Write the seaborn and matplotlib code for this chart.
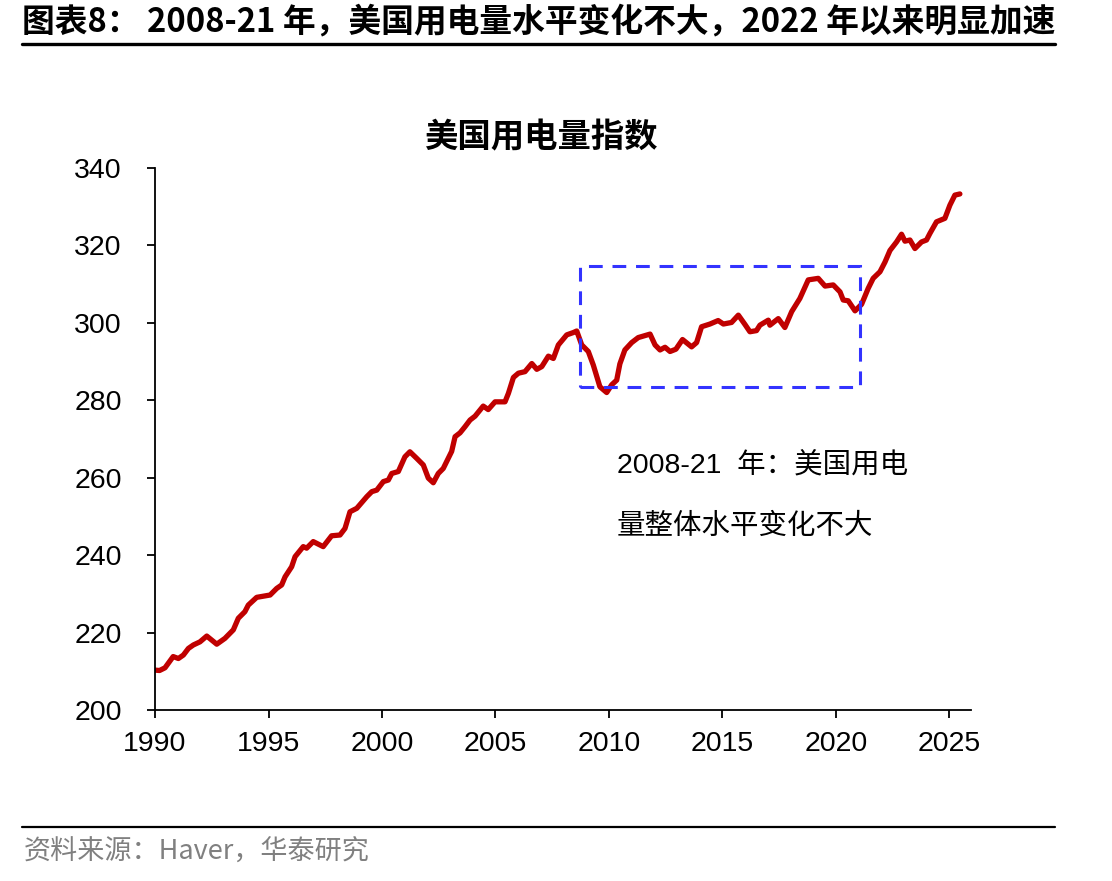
import numpy as np
import pandas as pd
import matplotlib
matplotlib.use('Agg')
import matplotlib.pyplot as plt
from matplotlib.patches import Rectangle
import seaborn as sns

# US electricity consumption index
years = [1990.00, 1990.20, 1990.44, 1990.80, 1991.03, 1991.25, 1991.47, 1991.69, 1991.98,
         1992.28, 1992.72, 1993.08, 1993.45, 1993.67, 1993.96, 1994.11, 1994.48, 1995.07,
         1995.36, 1995.58, 1995.73, 1996.02, 1996.17, 1996.53, 1996.68, 1996.97, 1997.41,
         1997.78, 1998.15, 1998.37, 1998.59, 1998.89, 1999.33, 1999.55, 1999.77, 2000.06,
         2000.28, 2000.43, 2000.72, 2001.01, 2001.23, 2001.53, 2001.82, 2002.04, 2002.26,
         2002.48, 2002.70, 2003.07, 2003.22, 2003.44, 2003.66, 2003.88, 2004.10, 2004.46,
         2004.68, 2004.98, 2005.42, 2005.57, 2005.79, 2006.01, 2006.30, 2006.60, 2006.82,
         2007.04, 2007.33, 2007.55, 2007.77, 2008.14, 2008.43, 2008.58, 2008.80, 2009.09,
         2009.31, 2009.60, 2009.90, 2010.12, 2010.34, 2010.48, 2010.70, 2011.00, 2011.29,
         2011.81, 2012.03, 2012.25, 2012.47, 2012.69, 2012.95, 2013.24, 2013.64, 2013.86,
         2014.08, 2014.45, 2014.81, 2015.04, 2015.40, 2015.70, 2015.99, 2016.21, 2016.50,
         2016.65, 2017.02, 2017.09, 2017.46, 2017.75, 2018.05, 2018.41, 2018.78, 2019.22,
         2019.52, 2019.88, 2020.18, 2020.32, 2020.54, 2020.84, 2021.13, 2021.42, 2021.64,
         2021.94, 2022.16, 2022.38, 2022.67, 2022.89, 2023.04, 2023.26, 2023.48, 2023.77,
         2023.99, 2024.14, 2024.43, 2024.80, 2025.02, 2025.24, 2025.46]
index_values = [210.3, 210.2, 210.9, 213.8, 213.3, 214.2, 215.9, 216.8, 217.6,
                219.1, 217.0, 218.5, 220.7, 223.7, 225.4, 227.1, 229.1, 229.7,
                231.4, 232.3, 234.4, 237.0, 239.6, 242.2, 241.8, 243.5, 242.2,
                245.0, 245.2, 246.9, 251.2, 252.1, 255.1, 256.4, 256.8, 259.0,
                259.4, 261.1, 261.6, 265.4, 266.7, 265.0, 263.3, 259.9, 258.7,
                261.1, 262.4, 266.8, 270.6, 271.6, 273.2, 274.9, 275.9, 278.5,
                277.6, 279.6, 279.6, 281.8, 285.9, 287.0, 287.4, 289.5, 288.0,
                288.7, 291.4, 290.8, 294.3, 296.9, 297.5, 297.9, 294.3, 292.6,
                289.1, 283.5, 282.0, 284.0, 285.2, 289.4, 293.0, 294.9, 296.2,
                297.1, 294.3, 293.0, 293.7, 292.6, 293.2, 295.7, 293.8, 294.9,
                299.0, 299.7, 300.6, 299.7, 300.1, 302.0, 299.6, 297.7, 298.0,
                299.4, 300.7, 299.4, 301.1, 298.8, 302.9, 306.3, 311.1, 311.5,
                309.5, 309.8, 308.0, 305.9, 305.7, 303.1, 304.8, 308.9, 311.5,
                313.2, 315.7, 318.7, 320.9, 322.9, 321.1, 321.4, 319.2, 320.9,
                321.4, 323.1, 326.1, 327.0, 330.4, 333.0, 333.3]

x_ticks = [1990, 1995, 2000, 2005, 2010, 2015, 2020, 2025]
y_ticks = [200, 220, 240, 260, 280, 300, 320, 340]

header = '图表8： 2008-21 年，美国用电量水平变化不大，2022 年以来明显加速'
chart_title = '美国用电量指数'
note_lines = ['2008-21  年：美国用电', '量整体水平变化不大']
source = '资料来源：Haver，华泰研究'

df = pd.DataFrame({'year': years, 'value': index_values})

sns.set_theme(style='ticks')
plt.rcParams['font.family'] = ['Liberation Sans', 'Noto Sans CJK SC']
plt.rcParams['text.color'] = 'black'
cjk = ['Noto Sans CJK SC', 'DejaVu Sans']
mixed = ['Liberation Sans', 'Noto Sans CJK SC']

fig = plt.figure(figsize=(11.12, 8.81), dpi=100)
ax = fig.add_axes([0.1394, 0.1941, 0.7338, 0.6152])

sns.lineplot(data=df, x='year', y='value', color='#C00000', linewidth=3.8, ax=ax)

# highlighted 2008-21 window
ax.add_patch(Rectangle((2008.72, 283.4), 2021.06 - 2008.72, 314.7 - 283.4,
                       fill=False, edgecolor='#3333FF', linewidth=2.2,
                       linestyle=(0, (4.5, 3.2)), zorder=3))
ax.text(2010.35, 263.3, note_lines[0], fontsize=20.5, va='center', ha='left',
        color='black', family=mixed)
ax.text(2010.35, 247.3, note_lines[1], fontsize=20.5, va='center', ha='left',
        color='black', family=mixed)

ax.set_xlim(1990, 2025.95)
ax.set_ylim(200, 340)
ax.set_xticks(x_ticks)
ax.set_yticks(y_ticks)
ax.set_xlabel('')
ax.set_ylabel('')
ax.tick_params(axis='both', labelsize=20.5, length=6, width=1.3, color='black',
               labelcolor='black', direction='out')
ax.tick_params(axis='y', pad=18)
ax.tick_params(axis='x', pad=9)
for side in ['top', 'right']:
    ax.spines[side].set_visible(False)
for side in ['left', 'bottom']:
    ax.spines[side].set_color('black')
    ax.spines[side].set_linewidth(1.3)

fig.text(0.486, 0.843, chart_title, fontsize=24, fontweight='bold',
         ha='center', va='center', color='black', family=cjk)

# header and footer
fig.text(0.020, 0.975, header, fontsize=23.6, fontweight='bold', ha='left',
         va='center', color='black', family=cjk)
fig.add_artist(plt.Line2D([0.020, 0.949], [0.950, 0.950], color='black',
                          linewidth=2.4, transform=fig.transFigure))
fig.add_artist(plt.Line2D([0.020, 0.949], [0.061, 0.061], color='black',
                          linewidth=1.6, transform=fig.transFigure))
fig.text(0.021, 0.033, source, fontsize=19.5, color='#808080', ha='left',
         va='center', family=cjk)

fig.savefig('out.png', dpi=100, facecolor='white')
